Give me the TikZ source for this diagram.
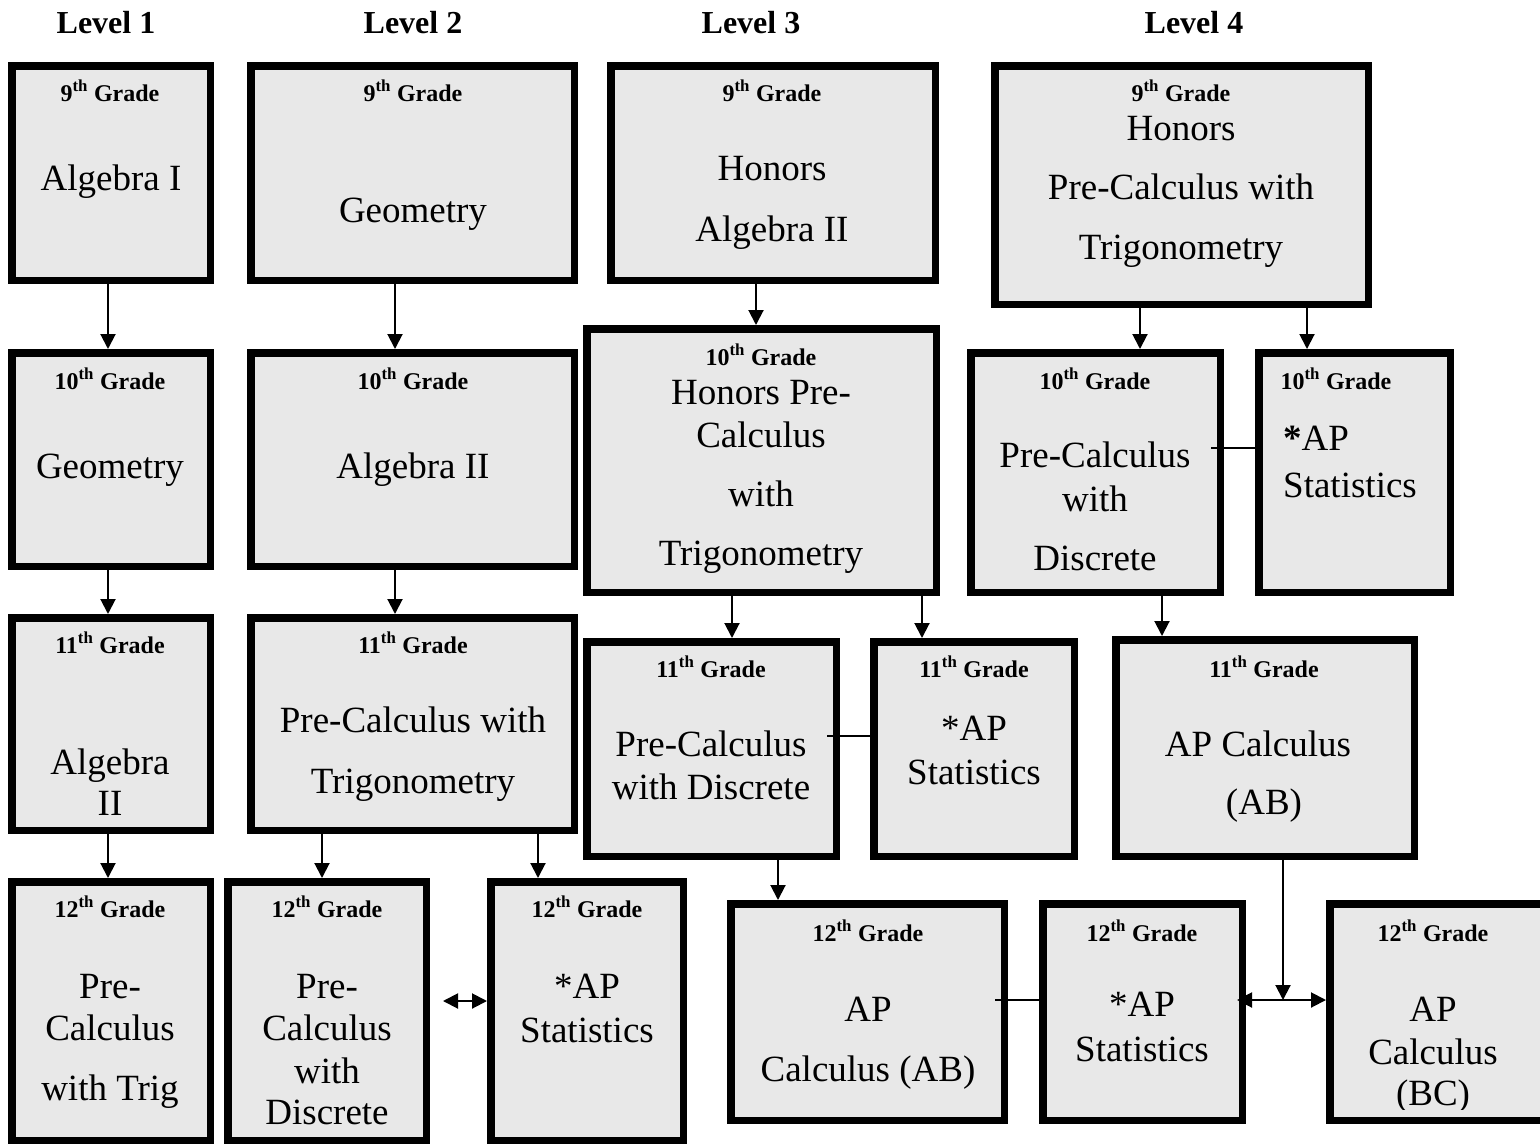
\documentclass[tikz,border=0pt]{standalone}
\usepackage{fontspec}
\setmainfont{Liberation Serif}
\usetikzlibrary{arrows.meta}
\definecolor{boxfill}{RGB}{232,232,232}
\newcommand{\mybox}[5]{\node[gbox, minimum width={#4-#2-7.5}, minimum height={#5-#3-7.5}] (#1) at ({(#2+#4)/2},{(#3+#5)/2}) {};}
\newcommand{\grd}[1]{#1\textsuperscript{th} Grade}
\begin{document}
\begin{tikzpicture}[x=1pt,y=-1pt,
 gbox/.style={draw=black, fill=boxfill, line width=7.5pt, inner sep=0pt},
 big/.style={font=\fontsize{37}{44}\selectfont, anchor=base, inner sep=0pt},
 grade/.style={font=\fontsize{24}{28}\selectfont\bfseries, anchor=base, inner sep=0pt},
 head/.style={font=\fontsize{32}{38}\selectfont\bfseries, anchor=base, inner sep=0pt},
 arr/.style={line width=2pt, -{Triangle[length=15pt,width=15pt]}},
 darr/.style={line width=2pt, {Triangle[length=15pt,width=15pt]}-{Triangle[length=15pt,width=15pt]}},
 conn/.style={line width=2pt}]
\useasboundingbox (0,0) rectangle (1540,1146);
% headers
\node[head] (h1) at (106,33) {Level 1};
\node[head] (h2) at (413,33) {Level 2};
\node[head] (h3) at (751,33) {Level 3};
\node[head] (h4) at (1194,33) {Level 4};
% boxes
\mybox{b11}{8}{62}{214}{284}
\mybox{b12}{8}{349}{214}{570}
\mybox{b13}{8}{614}{214}{834}
\mybox{b14}{8}{878}{214}{1144}
\mybox{b21}{247}{62}{578}{284}
\mybox{b22}{247}{349}{578}{570}
\mybox{b23}{247}{614}{578}{834}
\mybox{b24}{224}{878}{430}{1144}
\mybox{b25}{487}{878}{687}{1144}
\mybox{b31}{607}{62}{939}{284}
\mybox{b32}{583}{325}{940}{596}
\mybox{b33}{583}{638}{840}{860}
\mybox{b34}{870}{638}{1078}{860}
\mybox{b35}{727}{900}{1008}{1124}
\mybox{b41}{991}{62}{1372}{308}
\mybox{b42}{967}{349}{1224}{596}
\mybox{b43}{1255}{349}{1454}{596}
\mybox{b44}{1112}{636}{1418}{860}
\mybox{b45}{1039}{900}{1246}{1124}
\mybox{b46}{1326}{900}{1548}{1124}
% texts level 1
\node[grade] (g11) at (110,101) {\grd{9}};
\node[big] (t11a) at (111,190) {Algebra I};
\node[grade] (g12) at (110,389) {\grd{10}};
\node[big] (t12a) at (110,478) {Geometry};
\node[grade] (g13) at (110,653) {\grd{11}};
\node[big] (t13a) at (110,774) {Algebra};
\node[big] (t13b) at (110,815) {II};
\node[grade] (g14) at (110,917) {\grd{12}};
\node[big] (t14a) at (110,998) {Pre-};
\node[big] (t14b) at (110,1040) {Calculus};
\node[big] (t14c) at (110,1100) {with Trig};
% level 2
\node[grade] (g21) at (413,101) {\grd{9}};
\node[big] (t21a) at (413,222) {Geometry};
\node[grade] (g22) at (413,389) {\grd{10}};
\node[big] (t22a) at (413,478) {Algebra II};
\node[grade] (g23) at (413,653) {\grd{11}};
\node[big] (t23a) at (413,732) {Pre-Calculus with};
\node[big] (t23b) at (413,793) {Trigonometry};
\node[grade] (g24) at (327,917) {\grd{12}};
\node[big] (t24a) at (327,998) {Pre-};
\node[big] (t24b) at (327,1040) {Calculus};
\node[big] (t24c) at (327,1083) {with};
\node[big] (t24d) at (327,1124) {Discrete};
\node[grade] (g25) at (587,917) {\grd{12}};
\node[big] (t25a) at (587,998) {*AP};
\node[big] (t25b) at (587,1042) {Statistics};
% level 3
\node[grade] (g31) at (772,101) {\grd{9}};
\node[big] (t31a) at (772,180) {Honors};
\node[big] (t31b) at (772,241) {Algebra II};
\node[grade] (g32) at (761,365) {\grd{10}};
\node[big] (t32a) at (761,404) {Honors Pre-};
\node[big] (t32b) at (761,447) {Calculus};
\node[big] (t32c) at (761,506) {with};
\node[big] (t32d) at (761,565) {Trigonometry};
\node[grade] (g33) at (711,677) {\grd{11}};
\node[big] (t33a) at (711,756) {Pre-Calculus};
\node[big] (t33b) at (711,799) {with Discrete};
\node[grade] (g34) at (974,677) {\grd{11}};
\node[big] (t34a) at (974,740) {*AP};
\node[big] (t34b) at (974,784) {Statistics};
\node[grade] (g35) at (868,941) {\grd{12}};
\node[big] (t35a) at (868,1021) {AP};
\node[big] (t35b) at (868,1081) {Calculus (AB)};
% level 4
\node[grade] (g41) at (1181,101) {\grd{9}};
\node[big] (t41a) at (1181,140) {Honors};
\node[big] (t41b) at (1181,199) {Pre-Calculus with};
\node[big] (t41c) at (1181,259) {Trigonometry};
\node[grade] (g42) at (1095,389) {\grd{10}};
\node[big] (t42a) at (1095,467) {Pre-Calculus};
\node[big] (t42b) at (1095,511) {with};
\node[big] (t42c) at (1095,570) {Discrete};
\node[grade] (g43) at (1336,389) {\grd{10}};
\node[big, anchor=base west] (t43a) at (1283,450) {\textbf{*}AP};
\node[big, anchor=base west] (t43b) at (1283,497) {Statistics};
\node[grade] (g44) at (1264,677) {\grd{11}};
\node[big] (t44a) at (1258,756) {AP Calculus};
\node[big] (t44b) at (1264,814) {(AB)};
\node[grade] (g45) at (1142,941) {\grd{12}};
\node[big] (t45a) at (1142,1016) {*AP};
\node[big] (t45b) at (1142,1061) {Statistics};
\node[grade] (g46) at (1433,941) {\grd{12}};
\node[big] (t46a) at (1433,1021) {AP};
\node[big] (t46b) at (1433,1064) {Calculus};
\begin{scope}
\clip (1330,900) rectangle (1540,1109);
\node[big] (t46c) at (1433,1105) {(BC)};
\end{scope}
% connectors
\draw[arr] (b11.south -| 108,0) -- (b12.north -| 108,0);
\draw[arr] (b12.south -| 108,0) -- (b13.north -| 108,0);
\draw[arr] (b13.south -| 108,0) -- (b14.north -| 108,0);
\draw[arr] (b21.south -| 395,0) -- (b22.north -| 395,0);
\draw[arr] (b22.south -| 395,0) -- (b23.north -| 395,0);
\draw[arr] (b23.south -| 322,0) -- (b24.north -| 322,0);
\draw[arr] (b23.south -| 538,0) -- (b25.north -| 538,0);
\coordinate (d1) at (443,1001);
\draw[darr] (d1) -- (b25.west |- d1);
\draw[arr] (b31.south -| 756,0) -- (b32.north -| 756,0);
\draw[arr] (b32.south -| 732,0) -- (b33.north -| 732,0);
\draw[arr] (b32.south -| 922,0) -- (b34.north -| 922,0);
\coordinate (d2) at (827,736);
\draw[conn] (d2) -- (b34.west |- d2);
\draw[arr] (b33.south -| 778,0) -- (b35.north -| 778,0);
\coordinate (d3) at (995,1000);
\draw[conn] (d3) -- (b45.west |- d3);
\draw[arr] (b41.south -| 1140,0) -- (b42.north -| 1140,0);
\draw[arr] (b41.south -| 1307,0) -- (b43.north -| 1307,0);
\coordinate (d4) at (1211,448);
\draw[conn] (d4) -- (b43.west |- d4);
\draw[arr] (b42.south -| 1162,0) -- (b44.north -| 1162,0);
\coordinate (jn) at (1283,1000);
\draw[arr] (b44.south -| jn) -- (jn);
\coordinate (d5) at (1237,1000);
\draw[darr] (d5) -- (b46.west |- jn);
\end{tikzpicture}
\end{document}
